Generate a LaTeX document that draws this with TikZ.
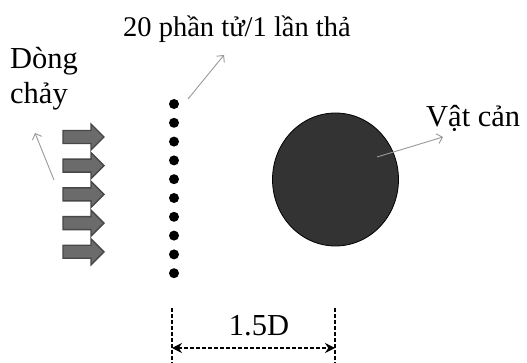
\documentclass[tikz,border=0pt]{standalone}
\usepackage{fontspec}
\setmainfont{Liberation Serif}
\usetikzlibrary{arrows.meta,shapes.geometric}
\tikzset{
  lbl/.style={inner sep=0pt, anchor=base west, font=\fontsize{30.5}{35}\selectfont},
  pointer/.style={draw=black!40, line width=0.9pt, -{Straight Barb[length=5pt,width=10pt]}},
  particle/.style={circle, fill=black, inner sep=0pt, minimum size=10pt},
  flowarrow/.style={fill=black!58, draw=black!72, line width=1.4pt, line join=miter},
  dimline/.style={draw=black, line width=1.1pt, dash pattern=on 3.5pt off 2.5pt},
  dimarrow/.style={dimline, {Stealth[length=10pt,width=10pt]}-{Stealth[length=10pt,width=10pt]}}
}
\begin{document}
\begin{tikzpicture}[x=1pt,y=-1pt]
\useasboundingbox (0,0) rectangle (527,363);
% texts
\node[lbl, font=\fontsize{28.5}{32}\selectfont] (top) at (123,37) {20 phần tử/1 lần thả};
\node[lbl] (dong) at (10,69) {Dòng};
\node[lbl] (chay) at (10,104) {chảy};
\node[lbl] (vat) at (426,127) {Vật cản};
% particles
\foreach \i in {0,...,9} {
  \node[particle] (p\i) at (174,{104+\i*18.8}) {};
}
% flow arrows
\foreach \i in {0,...,4} {
  \pgfmathsetmacro{\yc}{137+\i*28.7}
  \draw[flowarrow] (63,\yc-6.5) -- (91,\yc-6.5) -- (91,\yc-13) -- (104,\yc) -- (91,\yc+13) -- (91,\yc+6.5) -- (63,\yc+6.5) -- cycle;
}
% obstacle
\node[ellipse, draw=black, line width=0.8pt, fill=black!80, minimum width=126pt, minimum height=133pt, inner sep=0pt] (obs) at (335.5,179.5) {};
% pointers
\coordinate (flowA) at (54,180);
\coordinate (flowB) at (35,133);
\draw[pointer] (flowA) -- (flowB);
\coordinate (partA) at (188,99);
\coordinate (partB) at (224,55);
\draw[pointer] (partA) -- (partB);
\coordinate (obsA) at (377,157);
\coordinate (obsB) at (443,137);
\draw[pointer] (obsA) -- (obsB);
% dimension
\coordinate (d1t) at (172,308);
\coordinate (d1b) at (172,363);
\coordinate (d2t) at (335,308);
\coordinate (d2b) at (335,363);
\draw[dimline] (d1t) -- (d1b);
\draw[dimline] (d2t) -- (d2b);
\coordinate (a1) at (172,348);
\coordinate (a2) at (335,348);
\draw[dimarrow] (a1) -- (a2);
\node[inner sep=0pt, anchor=base, font=\fontsize{30.5}{35}\selectfont] (dim) at (259,335) {1.5D};
\end{tikzpicture}
\end{document}
